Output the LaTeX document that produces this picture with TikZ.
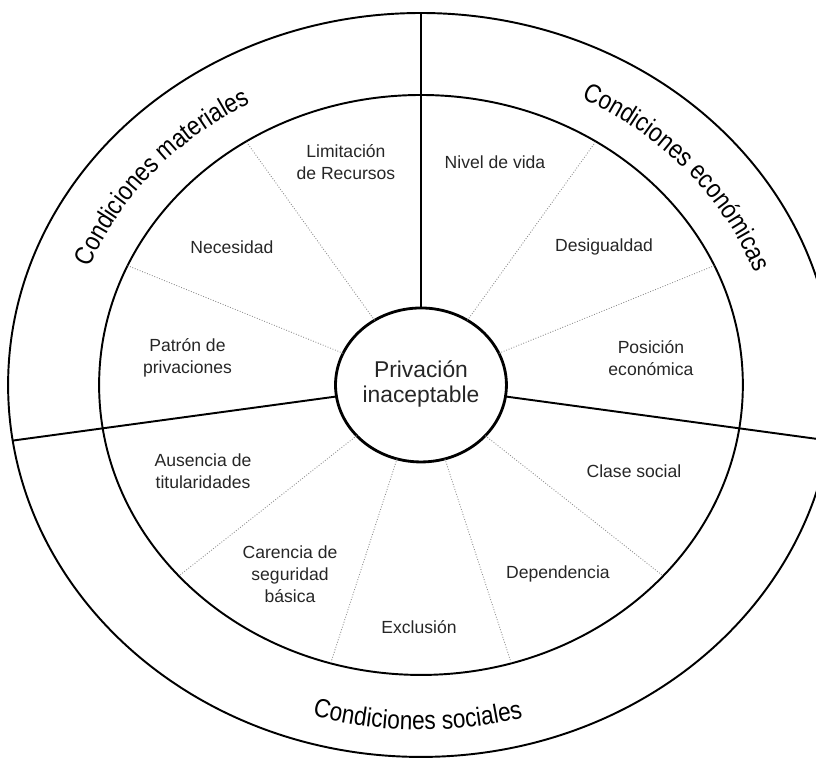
\documentclass[tikz,border=0pt]{standalone}
\usepackage{fontspec}
\setmainfont{Liberation Sans}
\newfontfamily\curvefam{Liberation Sans}[FakeStretch=0.86]
\usetikzlibrary{decorations.text}
\newcommand{\curvefont}{\curvefam\fontsize{15}{17}\selectfont}

\begin{document}
\begin{tikzpicture}[x=0.02cm, y=0.02cm, xscale=1.11,
	lbl/.style={align=center, text=black!85, font=\fontsize{10}{12.5}\selectfont},
	ring/.style={line width=1.1pt},
	sep/.style={densely dotted, black!45, line width=0.5pt}]
	\useasboundingbox (-379.3,-373) rectangle (355.9,385);
	% rings
	\draw[ring] (0,0) circle (372);
	\draw[ring] (0,0) circle (290);
	\draw[line width=1.6pt] (0,0) circle (77);
	% main dividers
	\draw[ring] (90:77)--(90:372);
	\draw[ring] (188.6:77)--(188.6:372);
	\draw[ring] (351.4:77)--(351.4:372);
	% sub dividers
	\foreach \a in {57.1,24.3,122.9,155.7,221.2,253.7,286.3,318.8}
		\draw[sep] (\a:77)--(\a:290);
	% centre
	\node[lbl, font=\fontsize{13}{14.2}\selectfont] (priv) at (0,1) {Privación\\inaceptable};
	% inner labels
	\node[lbl] (lim) at (-67.6,223) {Limitación\\de Recursos};
	\node[lbl] (niv) at (66.7,223) {Nivel de vida};
	\node[lbl] (nec) at (-170.3,138) {Necesidad};
	\node[lbl] (des) at (164.9,138) {Desigualdad};
	\node[lbl] (pat) at (-210.4,27) {Patrón de\\privaciones};
	\node[lbl] (pos) at (207.2,27) {Posición\\económica};
	\node[lbl] (aus) at (-196.4,-86) {Ausencia de\\titularidades};
	\node[lbl] (cla) at (191.9,-86) {Clase social};
	\node[lbl] (car) at (-118,-189) {Carencia de\\seguridad\\básica};
	\node[lbl] (dep) at (123.4,-189) {Dependencia};
	\node[lbl] (exc) at (-1.8,-242) {Exclusión};
	% outer ring labels
	\path[decorate, decoration={text along path, text align=center,
		text={|\curvefont|Condiciones materiales}}]
		(170:321) arc[start angle=170, end angle=108, radius=321];
	\path[decorate, decoration={text along path, text align=center,
		text={|\curvefont|Condiciones económicas}}]
		(72:321) arc[start angle=72, end angle=11, radius=321];
	\path[decorate, decoration={text along path, text align=center,
		text={|\curvefont|Condiciones sociales}}]
		(240:345) arc[start angle=240, end angle=299, radius=345];
\end{tikzpicture}
\end{document}
